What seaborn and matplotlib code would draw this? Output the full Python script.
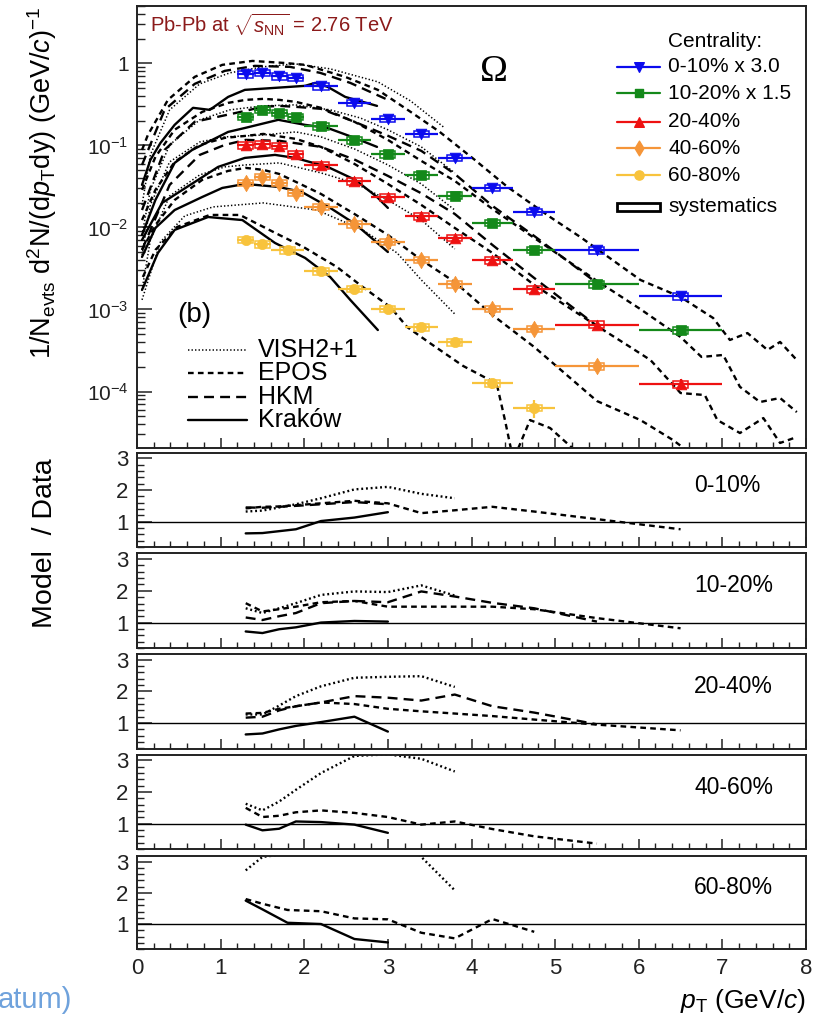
import matplotlib
matplotlib.use("Agg")
import numpy as np
import pandas as pd
import matplotlib.pyplot as plt
import seaborn as sns
from matplotlib.patches import Rectangle
from matplotlib.ticker import FixedLocator, MultipleLocator, NullFormatter, FuncFormatter

# ---------------------------------------------------------------- data
centralities = ["0-10%", "10-20%", "20-40%", "40-60%", "60-80%"]
legend_labels = ["0-10% x 3.0", "10-20% x 1.5", "20-40%", "40-60%", "60-80%"]
colors = ["#0b0bee", "#14891a", "#ee1111", "#f59538", "#f8c33c"]
markers = ["v", "s", "^", "d", "o"]
marker_sizes = [60, 42, 60, 70, 55]

bin_lo = [1.2, 1.4, 1.6, 1.8, 2.0, 2.4, 2.8, 3.2, 3.6, 4.0, 4.5, 5.0, 6.0]
bin_hi = [1.4, 1.6, 1.8, 2.0, 2.4, 2.8, 3.2, 3.6, 4.0, 4.5, 5.0, 6.0, 7.0]
bin_lo_6080 = [1.2, 1.4, 1.6, 2.0, 2.4, 2.8, 3.2, 3.6, 4.0, 4.5]
bin_hi_6080 = [1.4, 1.6, 2.0, 2.4, 2.8, 3.2, 3.6, 4.0, 4.5, 5.0]

yield_0010 = [0.734, 0.762, 0.693, 0.668, 0.525, 0.328, 0.211, 0.139, 0.0708,
              0.0305, 0.0154, 0.00525, 0.00144]
yield_1020 = [0.221, 0.272, 0.248, 0.221, 0.171, 0.115, 0.0776, 0.0431, 0.0245,
              0.0113, 0.00535, 0.00202, 0.000555]
yield_2040 = [0.100, 0.103, 0.098, 0.0776, 0.057, 0.0364, 0.0234, 0.0136, 0.00748,
              0.00396, 0.00177, 0.000656, 0.000123]
yield_4060 = [0.0351, 0.0411, 0.0351, 0.0262, 0.0177, 0.0109, 0.00663, 0.00403,
              0.00202, 0.00102, 0.000582, 0.000202]
yield_6080 = [0.00708, 0.00621, 0.00525, 0.00293, 0.00179, 0.00102, 0.000608,
              0.000399, 0.000126, 0.0000632]

stat_0010 = [0.02, 0.02, 0.02, 0.02, 0.02, 0.02, 0.03, 0.03, 0.04, 0.05, 0.06, 0.08, 0.12]
stat_1020 = [0.03, 0.02, 0.02, 0.02, 0.02, 0.03, 0.03, 0.03, 0.04, 0.05, 0.07, 0.09, 0.14]
stat_2040 = [0.03, 0.02, 0.02, 0.02, 0.02, 0.03, 0.03, 0.03, 0.04, 0.05, 0.07, 0.09, 0.14]
stat_4060 = [0.03, 0.03, 0.03, 0.03, 0.03, 0.03, 0.04, 0.05, 0.06, 0.08, 0.10, 0.14]
stat_6080 = [0.05, 0.05, 0.05, 0.05, 0.06, 0.07, 0.08, 0.10, 0.14, 0.25]
sys_rel = [0.09, 0.09, 0.09, 0.09, 0.09]

# model spectra (same scale factors as the data)
vish_pt_0010 = [0.06, 0.16, 0.39, 0.75, 1.11, 1.50, 1.89, 2.31, 2.88, 3.27, 3.68]
vish_0010 = [0.0188, 0.0766, 0.271, 0.562, 0.766, 0.906, 0.986, 0.857, 0.595, 0.349, 0.163]
epos_pt_0010 = [0.06, 0.13, 0.37, 0.69, 1.02, 1.38, 1.77, 2.01, 2.49, 2.88, 3.29, 3.62,
                4.04, 4.43, 4.94, 5.30, 6.02, 6.50, 6.89, 7.09, 7.30, 7.54, 7.69, 7.89]
epos_0010 = [0.0881, 0.134, 0.359, 0.684, 0.959, 1.07, 1.01, 0.959, 0.684, 0.475, 0.249,
             0.146, 0.0665, 0.0312, 0.0134, 0.00766, 0.00229, 0.00142, 0.000787,
             0.000425, 0.000516, 0.000321, 0.000402, 0.000242]
hkm_pt_0010 = [0.06, 0.33, 0.69, 1.05, 1.41, 1.83, 2.19, 2.55, 3.00]
hkm_0010 = [0.0578, 0.271, 0.562, 0.810, 0.932, 0.906, 0.766, 0.578, 0.359]
krk_pt_0010 = [0.06, 0.16, 0.28, 0.45, 0.67, 0.87, 1.09, 1.29, 2.01, 2.13, 2.28, 2.49, 2.87]
krk_0010 = [0.033, 0.0665, 0.107, 0.178, 0.287, 0.271, 0.390, 0.475, 0.532, 0.578,
            0.517, 0.390, 0.303]

vish_pt_1020 = [0.06, 0.16, 0.39, 0.75, 1.11, 1.50, 1.89, 2.31, 2.67, 3.00, 3.40, 3.80]
vish_1020 = [0.0081, 0.0287, 0.1014, 0.205, 0.271, 0.303, 0.312, 0.271, 0.216, 0.155,
             0.0959, 0.0462]
epos_pt_1020 = [0.06, 0.22, 0.45, 0.78, 1.09, 1.30, 1.51, 1.70, 1.90, 2.20, 2.60, 3.00,
                3.40, 3.80, 4.25, 4.75, 5.50, 6.02, 6.50, 6.75, 7.01, 7.21, 7.45, 7.69, 7.89]
epos_1020 = [0.0287, 0.0724, 0.155, 0.256, 0.330, 0.359, 0.369, 0.359, 0.339, 0.287,
             0.194, 0.1167, 0.0647, 0.0369, 0.0168, 0.00745, 0.00223, 0.00101, 0.000462,
             0.000264, 0.000279, 0.000114, 0.0000745, 0.0000834, 0.0000562]
hkm_pt_1020 = [0.06, 0.33, 0.69, 1.30, 1.50, 1.70, 1.90, 2.20, 2.60, 3.00, 3.40, 3.80,
               4.25, 4.75, 5.50]
hkm_1020 = [0.0163, 0.0881, 0.194, 0.264, 0.295, 0.303, 0.295, 0.279, 0.194, 0.131,
            0.0857, 0.0449, 0.0183, 0.00787, 0.0021]
krk_pt_1020 = [0.06, 0.22, 0.45, 0.66, 1.09, 1.29, 1.69, 2.01, 2.28, 2.57, 2.87]
krk_1020 = [0.0081, 0.0216, 0.0612, 0.0881, 0.146, 0.163, 0.205, 0.178, 0.163, 0.127, 0.0959]

vish_pt_2040 = [0.06, 0.16, 0.39, 0.75, 1.05, 1.30, 1.51, 1.90, 2.20, 2.60, 3.00, 3.40, 3.80]
vish_2040 = [0.00462, 0.0188, 0.0629, 0.110, 0.127, 0.1306, 0.134, 0.146, 0.127, 0.0906,
             0.0578, 0.0339, 0.0163]
epos_pt_2040 = [0.06, 0.22, 0.45, 0.75, 1.05, 1.30, 1.51, 1.90, 2.20, 2.60, 3.00, 3.40,
                3.80, 4.25, 4.75, 5.50, 5.86, 6.14, 6.50, 6.79, 6.94, 7.21, 7.49, 7.69, 7.89]
epos_2040 = [0.0123, 0.0287, 0.0629, 0.1014, 0.1235, 0.1306, 0.138, 0.120, 0.0959,
             0.0595, 0.0339, 0.0188, 0.00986, 0.00489, 0.00199, 0.00063, 0.000369,
             0.000242, 0.0000959, 0.0000906, 0.0000449, 0.0000312, 0.0000475,
             0.0000236, 0.0000279]
hkm_pt_2040 = [0.06, 0.39, 0.75, 1.05, 1.30, 1.71, 2.20, 2.61, 3.00, 3.39, 3.80, 4.25,
               4.75, 5.50]
hkm_2040 = [0.00532, 0.033, 0.0766, 0.1014, 0.1167, 0.1135, 0.0959, 0.0665, 0.0425,
            0.0264, 0.0146, 0.00612, 0.00242, 0.00063]
krk_pt_2040 = [0.06, 0.30, 0.73, 0.97, 1.29, 1.65, 1.89, 2.28, 2.61, 2.87, 3.00]
krk_2040 = [0.00704, 0.0199, 0.0380, 0.0547, 0.0704, 0.0766, 0.0704, 0.0547, 0.0380,
            0.0235, 0.0173]

vish_pt_4060 = [0.06, 0.16, 0.39, 0.75, 1.05, 1.30, 1.51, 1.70, 1.90, 2.20, 2.60, 3.00,
                3.40, 3.80]
vish_4060 = [0.00173, 0.00704, 0.0242, 0.0437, 0.0547, 0.0578, 0.0595, 0.0612, 0.0547,
             0.0462, 0.0349, 0.0216, 0.0123, 0.00547]
epos_pt_4060 = [0.06, 0.22, 0.45, 0.78, 1.09, 1.30, 1.51, 1.70, 1.90, 2.20, 2.60, 3.00,
                3.40, 3.80, 4.25, 4.75, 5.50, 6.02, 6.41, 6.65]
epos_4060 = [0.00532, 0.0107, 0.0216, 0.0380, 0.0489, 0.0532, 0.0503, 0.0449, 0.0359,
             0.0256, 0.0146, 0.0081, 0.00402, 0.00216, 0.000857, 0.000349, 0.0000766,
             0.0000449, 0.0000256, 0.0000168]
krk_pt_4060 = [0.06, 0.22, 0.45, 0.78, 1.02, 1.29, 1.69, 1.97, 2.31, 2.61, 3.00]
krk_4060 = [0.00437, 0.00986, 0.0163, 0.0235, 0.0303, 0.0339, 0.0312, 0.0271, 0.0173,
            0.0110, 0.00502]

vish_pt_6080 = [0.06, 0.28, 0.57, 0.91, 1.51, 2.15, 2.70, 3.11, 3.40, 3.80]
vish_6080 = [0.00131, 0.00665, 0.0138, 0.0178, 0.0199, 0.0163, 0.00933, 0.00489,
             0.00229, 0.000881]
epos_pt_6080 = [0.07, 0.22, 0.48, 0.87, 1.23, 1.63, 1.99, 2.39, 2.70, 3.03, 3.23, 3.50,
                3.90, 4.22, 4.31, 4.40, 4.50, 4.70, 4.94, 5.30]
epos_6080 = [0.00249, 0.00532, 0.01014, 0.0142, 0.0142, 0.00881, 0.00578, 0.0033,
             0.00188, 0.00107, 0.000612, 0.000391, 0.000205, 0.000138, 0.000114,
             0.0000449, 0.0000146, 0.0000449, 0.0000359, 0.0000168]
krk_pt_6080 = [0.06, 0.25, 0.45, 0.85, 1.26, 1.65, 2.01, 2.31, 2.55, 2.88]
krk_6080 = [0.00173, 0.00489, 0.00933, 0.0134, 0.0123, 0.00647, 0.00425, 0.00249,
            0.00131, 0.000562]

# model / data ratios at the data points
ratio_vish_0010 = [1.32, 1.35, 1.45, 1.55, 1.74, 2.02, 2.10, 1.88, 1.74]
ratio_epos_0010 = [1.42, 1.47, 1.48, 1.52, 1.58, 1.66, 1.58, 1.27, 1.36, 1.47, 1.32, 1.08, 0.76]
ratio_hkm_0010 = [1.45, 1.44, 1.47, 1.50, 1.55, 1.62, 1.55]
ratio_krk_0010 = [0.63, 0.64, 0.70, 0.76, 1.02, 1.13, 1.30]

ratio_vish_1020 = [1.45, 1.30, 1.45, 1.61, 1.87, 1.98, 1.96, 2.17, 1.85]
ratio_epos_1020 = [1.61, 1.35, 1.42, 1.50, 1.64, 1.68, 1.50, 1.50, 1.50, 1.50, 1.42, 1.14, 0.82]
ratio_hkm_1020 = [1.16, 1.08, 1.20, 1.30, 1.61, 1.68, 1.64, 1.98, 1.82, 1.62, 1.45, 1.03]
ratio_krk_1020 = [0.72, 0.67, 0.79, 0.85, 1.00, 1.05, 1.03]

ratio_vish_2040 = [1.27, 1.27, 1.55, 1.85, 2.16, 2.43, 2.46, 2.48, 2.14]
ratio_epos_2040 = [1.30, 1.32, 1.45, 1.53, 1.65, 1.60, 1.45, 1.37, 1.30, 1.22, 1.11, 0.95, 0.77]
ratio_hkm_2040 = [1.17, 1.20, 1.40, 1.53, 1.65, 1.85, 1.80, 1.71, 1.90, 1.53, 1.33, 0.96]
ratio_krk_2040 = [0.64, 0.67, 0.80, 0.91, 1.03, 1.20, 0.73]

ratio_vish_4060 = [1.63, 1.42, 1.70, 2.07, 2.60, 3.14, 3.19, 3.05, 2.65]
ratio_epos_4060 = [1.50, 1.21, 1.25, 1.36, 1.42, 1.34, 1.21, 0.97, 1.07, 0.83, 0.60, 0.37]
ratio_hkm_4060 = []
ratio_krk_4060 = [0.97, 0.79, 0.84, 1.07, 1.05, 0.97, 0.71]

ratio_vish_6080 = [2.72, 3.15, 3.25, 4.00, 4.40, 4.00, 3.15, 2.08]
ratio_epos_6080 = [1.80, 1.65, 1.45, 1.41, 1.18, 1.15, 0.72, 0.54, 1.16, 0.75]
ratio_hkm_6080 = []
ratio_krk_6080 = [1.75, 1.47, 1.04, 1.00, 0.52, 0.41]

model_names = ["VISH2+1", "EPOS", "HKM", "Kraków"]

# ---------------------------------------------------------------- style
sns.set_theme(style="ticks", rc={
    "axes.edgecolor": "#222222", "axes.linewidth": 1.4,
    "xtick.direction": "in", "ytick.direction": "in",
    "xtick.color": "#222222", "ytick.color": "#222222",
    "text.color": "black", "axes.labelcolor": "black",
})
plt.rcParams["font.family"] = ["Liberation Sans", "DejaVu Sans"]
plt.rcParams["mathtext.fontset"] = "custom"
plt.rcParams["mathtext.rm"] = "Liberation Sans"
plt.rcParams["mathtext.it"] = "Liberation Sans:italic"
plt.rcParams["mathtext.bf"] = "Liberation Sans:bold"

main_styles = {
    "VISH2+1": dict(linestyle=(0, (0.9, 1.4)), lw=1.1),
    "EPOS": dict(linestyle=(0, (2.4, 1.8)), lw=1.7),
    "HKM": dict(linestyle=(0, (4.2, 2.6)), lw=1.7),
    "Kraków": dict(linestyle="-", lw=1.7),
}
ratio_styles = {
    "VISH2+1": dict(linestyle=(0, (0.8, 1.2)), lw=1.7),
    "EPOS": dict(linestyle=(0, (2.4, 1.8)), lw=1.7),
    "HKM": dict(linestyle=(0, (4.2, 2.6)), lw=1.7),
    "Kraków": dict(linestyle="-", lw=1.7),
}

W, H = 814, 1022
fig = plt.figure(figsize=(W / 100, H / 100), dpi=100)


def axes_px(x0, y0, x1, y1):
    return fig.add_axes([x0 / W, 1 - y1 / H, (x1 - x0) / W, (y1 - y0) / H])


ax = axes_px(137, 6, 806, 448)
ratio_box = [(452.7, 547.3), (553.3, 648.3), (654.0, 748.7), (754.7, 849.3), (856.0, 949.3)]
rax = [axes_px(137, a, 806, b) for a, b in ratio_box]

# ---------------------------------------------------------------- spectra
ax.set_yscale("log")
ax.set_xlim(0, 8)
ax.set_ylim(2.05e-5, 5.0)

spectra_models = {
    "0-10%": [(vish_pt_0010, vish_0010), (epos_pt_0010, epos_0010),
              (hkm_pt_0010, hkm_0010), (krk_pt_0010, krk_0010)],
    "10-20%": [(vish_pt_1020, vish_1020), (epos_pt_1020, epos_1020),
               (hkm_pt_1020, hkm_1020), (krk_pt_1020, krk_1020)],
    "20-40%": [(vish_pt_2040, vish_2040), (epos_pt_2040, epos_2040),
               (hkm_pt_2040, hkm_2040), (krk_pt_2040, krk_2040)],
    "40-60%": [(vish_pt_4060, vish_4060), (epos_pt_4060, epos_4060),
               None, (krk_pt_4060, krk_4060)],
    "60-80%": [(vish_pt_6080, vish_6080), (epos_pt_6080, epos_6080),
               None, (krk_pt_6080, krk_6080)],
}
for cen in centralities:
    for name, curve in zip(model_names, spectra_models[cen]):
        if curve is None:
            continue
        pt, val = curve
        sns.lineplot(x=pt, y=val, ax=ax, color="black", estimator=None, sort=False,
                     legend=False, zorder=2, **main_styles[name])

yields = [yield_0010, yield_1020, yield_2040, yield_4060, yield_6080]
stats = [stat_0010, stat_1020, stat_2040, stat_4060, stat_6080]
edges = [(bin_lo, bin_hi)] * 4 + [(bin_lo_6080, bin_hi_6080)]
centers = []
for i, cen in enumerate(centralities):
    y = np.array(yields[i])
    n = len(y)
    lo = np.array(edges[i][0][:n])
    hi = np.array(edges[i][1][:n])
    x = 0.5 * (lo + hi)
    centers.append(x)
    st = np.array(stats[i]) * y
    ax.errorbar(x, y, xerr=[x - lo, hi - x], yerr=st, fmt="none", ecolor=colors[i],
                elinewidth=1.6, capsize=0, zorder=3)
    for xi, yi in zip(x, y):
        ax.add_patch(Rectangle((xi - 0.09, yi * (1 - sys_rel[i])), 0.18,
                               yi * 2 * sys_rel[i], fill=False, edgecolor=colors[i],
                               lw=1.1, zorder=4))
    df = pd.DataFrame({"pt": x, "y": y})
    sns.scatterplot(data=df, x="pt", y="y", ax=ax, marker=markers[i], s=marker_sizes[i],
                    color=colors[i], edgecolor=colors[i], linewidth=0.5, zorder=5,
                    legend=False)

ax.set_xlabel("")
ax.set_ylabel("")
ax.yaxis.set_major_locator(FixedLocator([1e-4, 1e-3, 1e-2, 1e-1, 1.0]))
ax.yaxis.set_minor_locator(FixedLocator(
    [m * 10.0 ** e for e in range(-5, 1) for m in range(2, 10)]))
ax.yaxis.set_minor_formatter(NullFormatter())
ax.yaxis.set_major_formatter(FuncFormatter(
    lambda v, p: "1" if abs(v - 1) < 1e-9 else r"10$^{%d}$" % int(round(np.log10(v)))))
ax.xaxis.set_major_locator(MultipleLocator(1))
ax.xaxis.set_minor_locator(MultipleLocator(0.2))
ax.tick_params(axis="x", which="both", labelbottom=False, top=False)
ax.tick_params(axis="x", which="major", length=7.5, width=1.1)
ax.tick_params(axis="x", which="minor", length=4, width=1.0)
ax.tick_params(axis="y", which="major", length=11, width=1.1, labelsize=15, pad=6)
ax.tick_params(axis="y", which="minor", length=5.5, width=1.0)
ax.tick_params(right=False, which="both")

# legend: centrality classes
tr = ax.transAxes
ax.text(0.794, 0.919, "Centrality:", transform=tr, fontsize=15, va="center", ha="left")
leg_rows = [0.8627, 0.8025, 0.7382, 0.678, 0.6176]
for i, yy in enumerate(leg_rows):
    ax.plot([0.7175, 0.782], [yy, yy], transform=tr, color=colors[i], lw=1.6,
            clip_on=False, zorder=6)
    ax.scatter([0.7497], [yy], transform=tr, marker=markers[i], s=marker_sizes[i] * 0.8,
               color=colors[i], zorder=7, clip_on=False)
    ax.text(0.794, yy, legend_labels[i], transform=tr, fontsize=15, va="center", ha="left")
ax.add_patch(Rectangle((0.7175, 0.546 - 0.009), 0.0645, 0.018, transform=tr, fill=False,
                       edgecolor="black", lw=2.0, zorder=6))
ax.text(0.794, 0.546, "systematics", transform=tr, fontsize=15, va="center", ha="left")

# legend: models
model_rows = [0.2217, 0.169, 0.1161, 0.0633]
for name, yy in zip(model_names, model_rows):
    ax.plot([0.0762, 0.1644], [yy, yy], transform=tr, color="black", zorder=6,
            **main_styles[name])
    ax.text(0.181, yy, name, transform=tr, fontsize=18, va="center", ha="left")

ax.text(0.085, 0.301, "(b)", transform=tr, fontsize=20, va="center", ha="center")
ax.text(0.0194, 0.957, r"Pb-Pb at $\sqrt{s_{\rm NN}}$ = 2.76 TeV", transform=tr,
        fontsize=14.5, color="#8b1a1a", va="center", ha="left")
ax.text(0.5336, 0.8507, "Ω", transform=tr, fontsize=27, va="center", ha="center",
        family=["Liberation Serif", "DejaVu Serif"])

# ---------------------------------------------------------------- ratios
ratio_sets = [
    (ratio_vish_0010, ratio_epos_0010, ratio_hkm_0010, ratio_krk_0010),
    (ratio_vish_1020, ratio_epos_1020, ratio_hkm_1020, ratio_krk_1020),
    (ratio_vish_2040, ratio_epos_2040, ratio_hkm_2040, ratio_krk_2040),
    (ratio_vish_4060, ratio_epos_4060, ratio_hkm_4060, ratio_krk_4060),
    (ratio_vish_6080, ratio_epos_6080, ratio_hkm_6080, ratio_krk_6080),
]
for i, (rx, cen) in enumerate(zip(rax, centralities)):
    rx.set_xlim(0, 8)
    rx.set_ylim(0.19, 3.18)
    rx.axhline(1.0, color="black", lw=1.0, zorder=1)
    for name, rvals in zip(model_names, ratio_sets[i]):
        if len(rvals) == 0:
            continue
        xs = centers[i][:len(rvals)]
        sns.lineplot(x=xs, y=rvals, ax=rx, color="black", estimator=None, sort=False,
                     legend=False, zorder=2, **ratio_styles[name])
    rx.set_xlabel("")
    rx.set_ylabel("")
    rx.yaxis.set_major_locator(FixedLocator([1, 2, 3]))
    rx.yaxis.set_minor_locator(MultipleLocator(0.2))
    rx.xaxis.set_major_locator(MultipleLocator(1))
    rx.xaxis.set_minor_locator(MultipleLocator(0.2))
    rx.tick_params(axis="y", which="major", length=11, width=1.1, labelsize=16, pad=6)
    rx.tick_params(axis="y", which="minor", length=5, width=1.0)
    rx.tick_params(axis="x", which="major", length=7.5, width=1.1, labelsize=16, pad=6)
    rx.tick_params(axis="x", which="minor", length=4, width=1.0)
    rx.tick_params(top=False, right=False, which="both")
    rx.tick_params(axis="x", labelbottom=(i == len(rax) - 1))
    rx.text(0.8326, 0.658, cen, transform=rx.transAxes, fontsize=16.5,
            va="center", ha="left")

# ---------------------------------------------------------------- axis titles
fig.text(42 / W, 1 - 183 / H,
         r"1/N$_{\rm evts}$ d$^{2}$N/(d$p_{\rm T}$dy) (GeV/$c$)$^{-1}$",
         rotation=90, ha="center", va="center", fontsize=19.5)
fig.text(45 / W, 1 - 543 / H, "Model  / Data", rotation=90, ha="center", va="center",
         fontsize=20.5)
fig.text(806 / W, 1 - 1001 / H, r"$p_{\rm T}$ (GeV/$c$)", ha="right", va="center",
         fontsize=19)
fig.text(-2 / W, 1 - 1000 / H, "atum)", ha="left", va="center", fontsize=21,
         color="#6fa2dc")

fig.savefig("out.png", dpi=100)
